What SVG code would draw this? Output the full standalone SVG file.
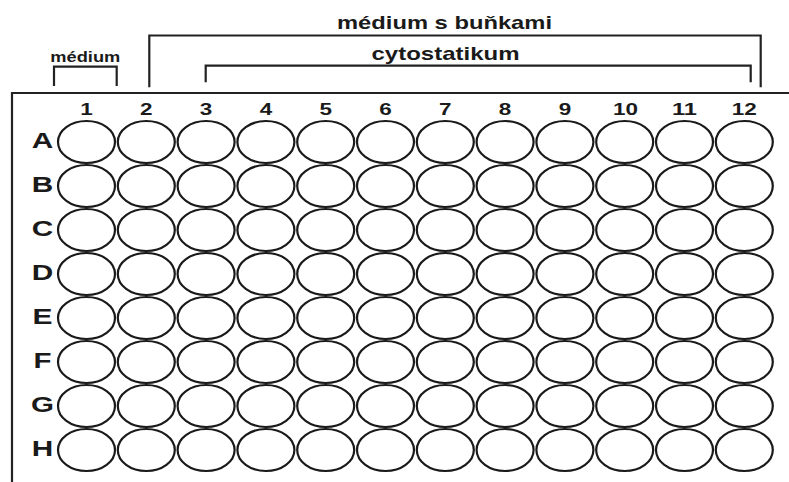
<svg xmlns="http://www.w3.org/2000/svg" width="789" height="482" viewBox="0 0 789 482">
<style>
.t{font-family:"Liberation Sans",Arial,sans-serif;font-weight:bold;fill:#1a1a1a;text-anchor:middle}
.ln{fill:none;stroke:#222;stroke-width:2.2}
.w{fill:#fff;stroke:#1a1a1a;stroke-width:2.2}
</style>
<rect width="789" height="482" fill="#fff"/>
<g id="connectors">
<path class="ln" d="M12 482 V93 H789"/>
<path id="bracket-medium" class="ln" d="M54 86 V66.7 H116.7 V86"/>
<path id="bracket-bunky" class="ln" d="M149.3 87.3 V35.5 H760.7 V87.3"/>
<path id="bracket-cyto" class="ln" d="M205.7 82.3 V65.7 H750.7 V82.3"/>
</g>
<g id="labels">
<text class="t" x="444.5" y="29" font-size="19" textLength="215" lengthAdjust="spacingAndGlyphs">médium s buňkami</text>
<text class="t" x="445.5" y="60" font-size="19" textLength="148" lengthAdjust="spacingAndGlyphs">cytostatikum</text>
<text class="t" x="85.3" y="61.5" font-size="14" textLength="70" lengthAdjust="spacingAndGlyphs">médium</text>
</g>
<g id="columns" font-size="17">
<text class="t" x="86.5" y="115" textLength="12.5" lengthAdjust="spacingAndGlyphs">1</text>
<text class="t" x="146.3" y="115" textLength="12.5" lengthAdjust="spacingAndGlyphs">2</text>
<text class="t" x="206.1" y="115" textLength="12.5" lengthAdjust="spacingAndGlyphs">3</text>
<text class="t" x="265.9" y="115" textLength="12.5" lengthAdjust="spacingAndGlyphs">4</text>
<text class="t" x="325.7" y="115" textLength="12.5" lengthAdjust="spacingAndGlyphs">5</text>
<text class="t" x="385.5" y="115" textLength="12.5" lengthAdjust="spacingAndGlyphs">6</text>
<text class="t" x="445.3" y="115" textLength="12.5" lengthAdjust="spacingAndGlyphs">7</text>
<text class="t" x="505.1" y="115" textLength="12.5" lengthAdjust="spacingAndGlyphs">8</text>
<text class="t" x="564.9" y="115" textLength="12.5" lengthAdjust="spacingAndGlyphs">9</text>
<text class="t" x="625.5" y="115" textLength="25" lengthAdjust="spacingAndGlyphs">10</text>
<text class="t" x="684.5" y="115" textLength="25" lengthAdjust="spacingAndGlyphs">11</text>
<text class="t" x="744.3" y="115" textLength="25" lengthAdjust="spacingAndGlyphs">12</text>
</g>
<g id="rows" font-size="22">
<text class="t" x="42.5" y="148" textLength="21.5" lengthAdjust="spacingAndGlyphs">A</text>
<text class="t" x="42.5" y="192" textLength="21.5" lengthAdjust="spacingAndGlyphs">B</text>
<text class="t" x="42.5" y="236" textLength="21.5" lengthAdjust="spacingAndGlyphs">C</text>
<text class="t" x="42.5" y="280" textLength="21.5" lengthAdjust="spacingAndGlyphs">D</text>
<text class="t" x="42.5" y="324" textLength="20" lengthAdjust="spacingAndGlyphs">E</text>
<text class="t" x="42.5" y="368" textLength="18" lengthAdjust="spacingAndGlyphs">F</text>
<text class="t" x="42.5" y="412" textLength="23" lengthAdjust="spacingAndGlyphs">G</text>
<text class="t" x="42.5" y="456" textLength="21.5" lengthAdjust="spacingAndGlyphs">H</text>
</g>
<defs><ellipse id="well" cx="0" cy="0" rx="28.5" ry="21" class="w"/></defs>
<g id="row-A"><use href="#well" x="86.5" y="142"/><use href="#well" x="146.3" y="142"/><use href="#well" x="206.1" y="142"/><use href="#well" x="265.9" y="142"/><use href="#well" x="325.7" y="142"/><use href="#well" x="385.5" y="142"/><use href="#well" x="445.3" y="142"/><use href="#well" x="505.1" y="142"/><use href="#well" x="564.9" y="142"/><use href="#well" x="624.7" y="142"/><use href="#well" x="684.5" y="142"/><use href="#well" x="744.3" y="142"/></g>
<g id="row-B"><use href="#well" x="86.5" y="186"/><use href="#well" x="146.3" y="186"/><use href="#well" x="206.1" y="186"/><use href="#well" x="265.9" y="186"/><use href="#well" x="325.7" y="186"/><use href="#well" x="385.5" y="186"/><use href="#well" x="445.3" y="186"/><use href="#well" x="505.1" y="186"/><use href="#well" x="564.9" y="186"/><use href="#well" x="624.7" y="186"/><use href="#well" x="684.5" y="186"/><use href="#well" x="744.3" y="186"/></g>
<g id="row-C"><use href="#well" x="86.5" y="230"/><use href="#well" x="146.3" y="230"/><use href="#well" x="206.1" y="230"/><use href="#well" x="265.9" y="230"/><use href="#well" x="325.7" y="230"/><use href="#well" x="385.5" y="230"/><use href="#well" x="445.3" y="230"/><use href="#well" x="505.1" y="230"/><use href="#well" x="564.9" y="230"/><use href="#well" x="624.7" y="230"/><use href="#well" x="684.5" y="230"/><use href="#well" x="744.3" y="230"/></g>
<g id="row-D"><use href="#well" x="86.5" y="274"/><use href="#well" x="146.3" y="274"/><use href="#well" x="206.1" y="274"/><use href="#well" x="265.9" y="274"/><use href="#well" x="325.7" y="274"/><use href="#well" x="385.5" y="274"/><use href="#well" x="445.3" y="274"/><use href="#well" x="505.1" y="274"/><use href="#well" x="564.9" y="274"/><use href="#well" x="624.7" y="274"/><use href="#well" x="684.5" y="274"/><use href="#well" x="744.3" y="274"/></g>
<g id="row-E"><use href="#well" x="86.5" y="318"/><use href="#well" x="146.3" y="318"/><use href="#well" x="206.1" y="318"/><use href="#well" x="265.9" y="318"/><use href="#well" x="325.7" y="318"/><use href="#well" x="385.5" y="318"/><use href="#well" x="445.3" y="318"/><use href="#well" x="505.1" y="318"/><use href="#well" x="564.9" y="318"/><use href="#well" x="624.7" y="318"/><use href="#well" x="684.5" y="318"/><use href="#well" x="744.3" y="318"/></g>
<g id="row-F"><use href="#well" x="86.5" y="362"/><use href="#well" x="146.3" y="362"/><use href="#well" x="206.1" y="362"/><use href="#well" x="265.9" y="362"/><use href="#well" x="325.7" y="362"/><use href="#well" x="385.5" y="362"/><use href="#well" x="445.3" y="362"/><use href="#well" x="505.1" y="362"/><use href="#well" x="564.9" y="362"/><use href="#well" x="624.7" y="362"/><use href="#well" x="684.5" y="362"/><use href="#well" x="744.3" y="362"/></g>
<g id="row-G"><use href="#well" x="86.5" y="406"/><use href="#well" x="146.3" y="406"/><use href="#well" x="206.1" y="406"/><use href="#well" x="265.9" y="406"/><use href="#well" x="325.7" y="406"/><use href="#well" x="385.5" y="406"/><use href="#well" x="445.3" y="406"/><use href="#well" x="505.1" y="406"/><use href="#well" x="564.9" y="406"/><use href="#well" x="624.7" y="406"/><use href="#well" x="684.5" y="406"/><use href="#well" x="744.3" y="406"/></g>
<g id="row-H"><use href="#well" x="86.5" y="450"/><use href="#well" x="146.3" y="450"/><use href="#well" x="206.1" y="450"/><use href="#well" x="265.9" y="450"/><use href="#well" x="325.7" y="450"/><use href="#well" x="385.5" y="450"/><use href="#well" x="445.3" y="450"/><use href="#well" x="505.1" y="450"/><use href="#well" x="564.9" y="450"/><use href="#well" x="624.7" y="450"/><use href="#well" x="684.5" y="450"/><use href="#well" x="744.3" y="450"/></g>
</svg>
